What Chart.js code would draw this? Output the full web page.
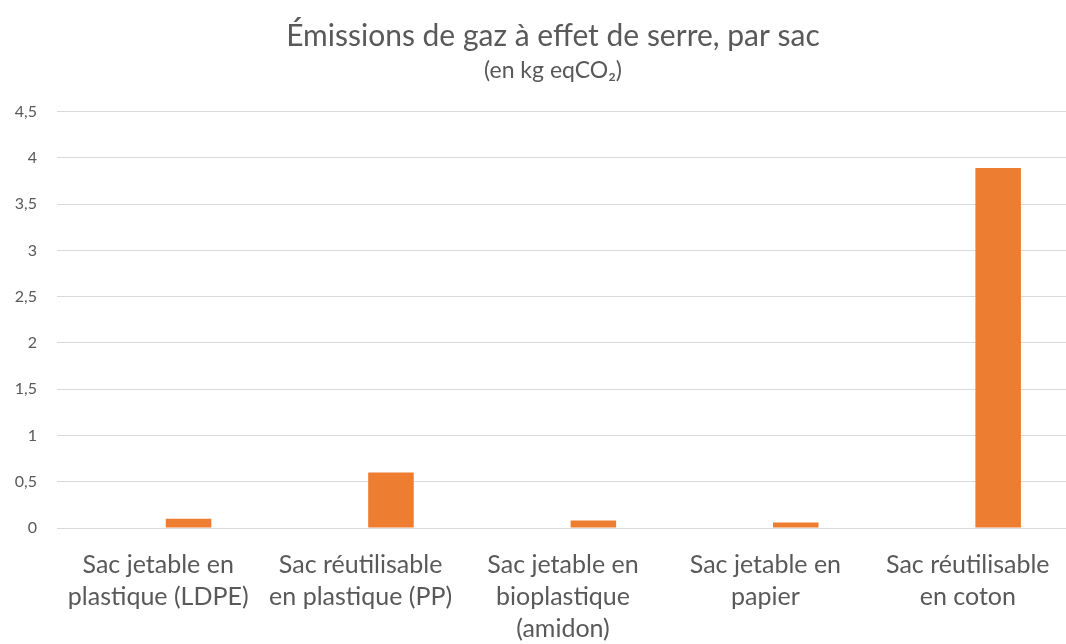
<!DOCTYPE html>
<html>
<head>
<meta charset="utf-8">
<script src="https://cdn.jsdelivr.net/npm/chart.js@4"></script>
<style>
  html, body { margin: 0; padding: 0; background: #fff; overflow: hidden; }
  #wrap { width: 1106px; height: 644px; }
</style>
</head>
<body>
<div id="wrap"><canvas id="chart"></canvas></div>
<script>
// categories (multi-line labels)
const categories = [
    ['Sac jetable en', 'plastique (LDPE)'],
    ['Sac réutilisable', 'en plastique (PP)'],
    ['Sac jetable en', 'bioplastique', '(amidon)'],
    ['Sac jetable en', 'papier'],
    ['Sac réutilisable', 'en coton']
];

// empty first series (blank in the source sheet) + emissions per bag
const blankSeries = [null, null, null, null, null];
const emissions = [0.1, 0.6, 0.08, 0.06, 3.89];

const yTicks = [0, 0.5, 1, 1.5, 2, 2.5, 3, 3.5, 4, 4.5];

const grey = '#595959';
const font = 'Lato, "Liberation Sans", sans-serif';

// the source picture is cropped on the right: the canvas is wider than the window
// and an empty right axis keeps the plot edge where the crop was
new Chart(document.getElementById('chart').getContext('2d'), {
    type: 'bar',
    data: {
        labels: categories,
        datasets: [
            { label: 'Série 1', data: blankSeries, backgroundColor: '#4472C4' },
            { label: 'Série 2', data: emissions, backgroundColor: '#ED7D31' }
        ]
    },
    options: {
        responsive: true,
        maintainAspectRatio: false,
        animation: false,
        categoryPercentage: 0.6,
        barPercentage: 0.75,
        layout: { padding: 0 },
        plugins: {
            legend: { display: false },
            tooltip: { enabled: false },
            title: {
                display: true,
                text: 'Émissions de gaz à effet de serre, par sac',
                color: grey,
                font: { family: font, size: 30, weight: 'normal' },
                padding: { top: 18, bottom: 3 }
            },
            subtitle: {
                display: true,
                text: '(en kg eqCO₂)',
                color: grey,
                font: { family: font, size: 23, weight: 'normal' },
                padding: { top: 0, bottom: 27 }
            }
        },
        scales: {
            x: {
                grid: { display: false, drawTicks: false },
                border: { display: false },
                afterFit: function (scale) { scale.height = 116; },
                ticks: {
                    color: grey,
                    font: { family: font, size: 25, lineHeight: 1.28 },
                    maxRotation: 0,
                    autoSkip: false,
                    padding: 21
                }
            },
            y: {
                min: 0,
                max: 4.5,
                afterBuildTicks: function (scale) {
                    scale.ticks = yTicks.map(v => ({ value: v }));
                },
                afterFit: function (scale) { scale.width = 57; },
                grid: { color: '#d9d9d9', lineWidth: 1, drawTicks: false },
                border: { display: false },
                ticks: {
                    color: grey,
                    font: { family: font, size: 16 },
                    padding: 20,
                    callback: v => String(v).replace('.', ',')
                }
            },
            yRight: {
                position: 'right',
                min: 0,
                max: 4.5,
                afterFit: function (scale) { scale.width = 37; },
                grid: { display: false, drawTicks: false },
                border: { display: false },
                ticks: { display: false }
            }
        }
    }
});
</script>
</body>
</html>
